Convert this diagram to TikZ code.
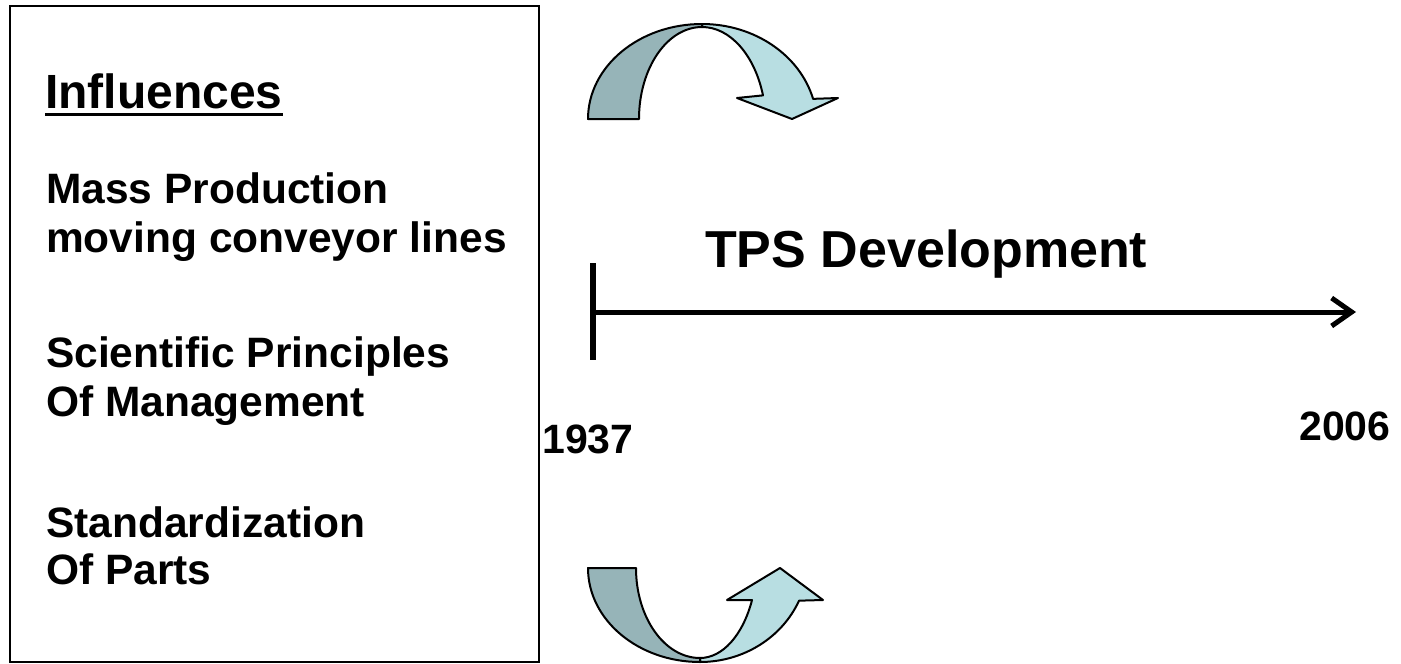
\documentclass[tikz,border=0pt]{standalone}
\usepackage{fontspec}
\setmainfont{Liberation Sans}
\usetikzlibrary{arrows.meta,calc}
\definecolor{bandback}{RGB}{150,180,184}
\definecolor{bandfront}{RGB}{184,222,226}
\begin{document}
\begin{tikzpicture}[x=1pt,y=-1pt,
  txt/.style={anchor=base west,inner sep=0pt,font=\bfseries\fontsize{42.5}{50}\selectfont},
  heading/.style={txt,font=\bfseries\fontsize{48}{56}\selectfont},
  title/.style={txt,font=\bfseries\fontsize{52}{60}\selectfont},
  year/.style={txt,font=\bfseries\fontsize{41}{48}\selectfont},
  bandedge/.style={draw=black,line width=2pt,line join=round},
  axis/.style={line width=5pt}]
\useasboundingbox (0,0) rectangle (1401,664);

% frame around the list of influences
\draw[line width=2pt] (10,6) rectangle (539,662);

% list of influences
\node[heading] (infl) at (45,108) {Influences};
\draw[line width=3.5pt] ([yshift=-6.5pt]infl.base west) -- ([yshift=-6.5pt]infl.base east);
\node[txt] (mass) at (46,203) {Mass Production};
\node[txt] (conv) at (46,252) {moving conveyor lines};
\node[txt] (sci)  at (46,367) {Scientific Principles};
\node[txt] (mgmt) at (46,416) {Of Management};
\node[txt] (std)  at (46,537) {Standardization};
\node[txt] (parts) at (46,584) {Of Parts};

% timeline
\node[title] (tps) at (705,267) {TPS Development};
\coordinate (tickTop) at (593,263);
\coordinate (tickBot) at (593,360);
\coordinate (tStart) at (593,312);
\coordinate (tEnd) at (1356,312);
\draw[line width=6pt] (tickTop) -- (tickBot);
\draw[axis,-{Straight Barb[length=20pt,width=28pt,line width=5pt]}] (tStart) -- (tEnd);
\node[year] (y1937) at (542,453) {1937};
\node[year] (y2006) at (1299,440) {2006};

% upper curved arrow (bends over and points down)
\coordinate (ua) at (702,119);
\coordinate (ub) at (702,125);
\draw[bandedge,fill=bandfront]
  ($(ub)+(270:115 and 101)$) arc[start angle=270,end angle=345,x radius=115,y radius=101]
  -- (838,98) -- (792,119) -- (737,98)
  -- ($(ub)+(342.4:64 and 98)$) arc[start angle=342.4,end angle=270,x radius=64,y radius=98]
  -- cycle;
\draw[bandedge,fill=bandback]
  ($(ua)+(180:114 and 95)$) arc[start angle=180,end angle=270,x radius=114,y radius=95]
  -- ($(ua)+(270:63 and 92)$) arc[start angle=270,end angle=180,x radius=63,y radius=92]
  -- cycle;

% lower curved arrow (dips under and points up)
\coordinate (la) at (700,568);
\coordinate (lb) at (700,560);
\draw[bandedge,fill=bandfront]
  ($(lb)+(90:108 and 102)$) arc[start angle=90,end angle=23.5,x radius=108,y radius=102]
  -- (823,600) -- (780,568) -- (727,600)
  -- ($(lb)+(24.1:57 and 98)$) arc[start angle=24.1,end angle=90,x radius=57,y radius=98]
  -- cycle;
\draw[bandedge,fill=bandback]
  ($(la)+(180:112 and 94)$) arc[start angle=180,end angle=90,x radius=112,y radius=94]
  -- ($(la)+(90:64 and 90)$) arc[start angle=90,end angle=180,x radius=64,y radius=90]
  -- cycle;
\end{tikzpicture}
\end{document}
